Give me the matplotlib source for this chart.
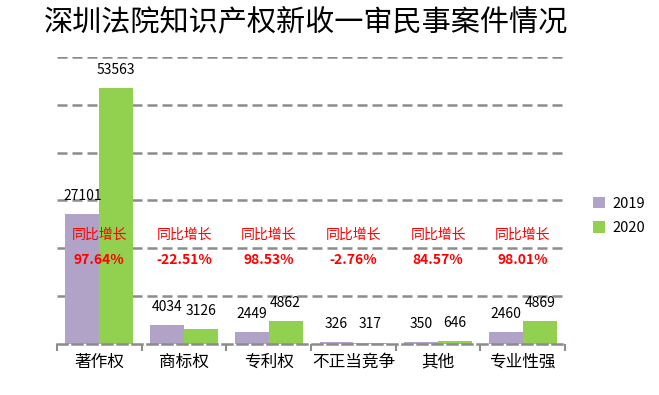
import matplotlib
matplotlib.use("Agg")
import matplotlib.pyplot as plt
import numpy as np

plt.rcParams['font.family'] = ['Noto Sans CJK SC', 'DejaVu Sans']

categories = ['著作权', '商标权', '专利权', '不正当竞争', '其他', '专业性强']
cases_2019 = [27101, 4034, 2449, 326, 350, 2460]
cases_2020 = [53563, 3126, 4862, 317, 646, 4869]
growth_labels = ['97.64%', '-22.51%', '98.53%', '-2.76%', '84.57%', '98.01%']

purple = '#b1a2c7'
green = '#92d050'
grid_gray = '#8c8c8c'

fig = plt.figure(figsize=(6.59, 3.95), dpi=100)
ax = fig.add_axes([0.0865, 0.129, 0.771, 0.727])

x = np.arange(len(categories))
w = 0.4
b1 = ax.bar(x - w / 2, cases_2019, w, color=purple, label='2019', zorder=2)
b2 = ax.bar(x + w / 2, cases_2020, w, color=green, label='2020', zorder=2)

for bars, vals in ((b1, cases_2019), (b2, cases_2020)):
    for r, v in zip(bars, vals):
        ax.annotate(str(v), (r.get_x() + r.get_width() / 2, r.get_height()),
                    xytext=(0, 13), textcoords='offset points',
                    ha='center', va='center', fontsize=10, color='black')

for i, g in enumerate(growth_labels):
    ax.text(i, 22800, '同比增长', ha='center', va='center', fontsize=10, color='red')
    ax.text(i, 17600, g, ha='center', va='center', fontsize=10,
            color='red', fontweight='bold')

ax.set_xlim(-0.5, len(categories) - 0.5)
ax.set_ylim(0, 60000)
ax.set_yticks(np.arange(10000, 60001, 10000))
ax.yaxis.grid(True, color=grid_gray, linestyle=(0, (4, 2)), linewidth=1.8, zorder=1)
ax.tick_params(axis='y', left=False, labelleft=False)

ax.set_xticks(x)
ax.set_xticklabels(categories, fontsize=12)
ax.set_xticks(np.arange(-0.5, len(categories), 1), minor=True)
ax.tick_params(axis='x', which='major', length=0, pad=7)
ax.tick_params(axis='x', which='minor', length=5, width=1.5, color=grid_gray)

for s in ('top', 'right', 'left'):
    ax.spines[s].set_visible(False)
ax.spines['bottom'].set_color(grid_gray)
ax.spines['bottom'].set_linestyle((0, (4, 2)))
ax.spines['bottom'].set_linewidth(1.8)

ax.legend(loc='center left', bbox_to_anchor=(1.03, 0.446), frameon=False,
          fontsize=10.5, handlelength=0.8, handleheight=0.8, handletextpad=0.5,
          labelspacing=0.7)

fig.text(0.465, 0.944, '深圳法院知识产权新收一审民事案件情况', ha='center', va='center',
         fontsize=21, color='black')

fig.savefig('out.png', dpi=100)
